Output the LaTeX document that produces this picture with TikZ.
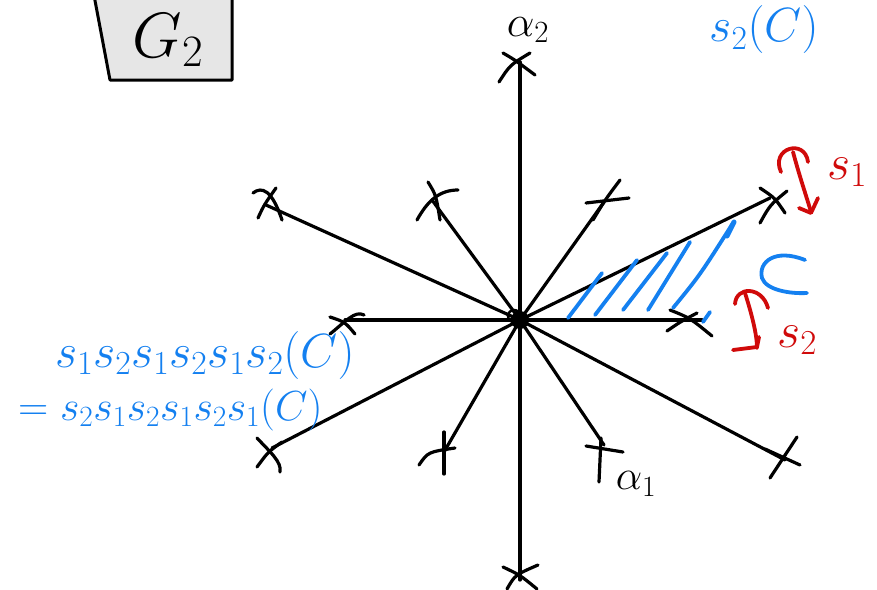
\RequirePackage{fix-cm}
\documentclass[tikz,border=0pt]{standalone}
\usepackage{amsmath}
\definecolor{penblue}{RGB}{20,128,240}
\definecolor{penred}{RGB}{208,10,10}
\definecolor{boxgray}{RGB}{230,230,230}
\begin{document}
\begin{tikzpicture}[x=1pt,y=-1pt,
  root/.style={line width=3.2pt,line cap=round},
  mk/.style={line width=3.2pt,line cap=round},
  bluepen/.style={draw=penblue,line width=3.8pt,line cap=round},
  redpen/.style={draw=penred,line width=3.8pt,line cap=round,line join=round},
  bluetxt/.style={text=penblue,inner sep=0pt,font=\fontsize{46}{46}\selectfont},
  redtxt/.style={text=penred,inner sep=0pt,font=\fontsize{50}{50}\selectfont},
  blacktxt/.style={inner sep=0pt,font=\fontsize{42}{42}\selectfont}]
\useasboundingbox (0,0) rectangle (877,589);
% box G2
\draw[line width=3pt,fill=boxgray,line join=round] (93,-10) -- (110,80) -- (232,80) -- (232,-10);
\node[blacktxt,font=\fontsize{64}{64}\selectfont] (g2) at (168,40) {$G_2$};
% coordinates
\coordinate (O) at (520,320);
\coordinate (top) at (520,62);
\coordinate (bot) at (520,580);
\coordinate (hl) at (345,320);
\coordinate (hr) at (702,320);
\coordinate (ull) at (266,205);
\coordinate (uls) at (432,200);
\coordinate (urs) at (604,202);
\coordinate (url) at (770,198);
\coordinate (lll) at (272,448);
\coordinate (lls) at (444,452);
\coordinate (lrs) at (604,445);
\coordinate (lrl) at (785,460);
% roots
\foreach \t in {top,bot,hl,hr,ull,uls,urs,url,lll,lls,lrs,lrl}
  \draw[root] (O) -- (\t);
% center blob
\fill (O) circle (9pt);
\draw[line width=2.5pt] (514,316) circle (6pt);
% x marks
\draw[mk] (503,53) .. controls (515,60) .. (535,75);
\draw[mk] (499,82) .. controls (510,65) .. (530,53);
\draw[mk] (503,567) .. controls (520,575) .. (537,589);
\draw[mk] (507,589) .. controls (515,575) .. (538,565);
\draw[mk] (330,317) .. controls (345,322) .. (355,334);
\draw[mk] (330,334) .. controls (345,322) and (355,310) .. (364,315);
\draw[mk] (670,310) .. controls (690,318) .. (712,336);
\draw[mk] (667,331) .. controls (680,322) .. (697,313);
\draw[mk] (253,193) .. controls (262,186) and (272,190) .. (282,220);
\draw[mk] (258,218) .. controls (264,205) .. (276,188);
\draw[mk] (428,182) .. controls (436,195) .. (440,220);
\draw[mk] (417,220) .. controls (428,200) and (440,190) .. (458,190);
\draw[mk] (586,203) -- (629,198);
\draw[mk] (593,220) .. controls (605,200) .. (620,180);
\draw[mk] (760,188) .. controls (775,198) .. (785,213);
\draw[mk] (760,223) .. controls (770,205) .. (787,191);
\draw[mk] (257,438) .. controls (270,452) and (282,462) .. (280,472);
\draw[mk] (257,467) .. controls (268,452) .. (282,442);
\draw[mk] (444,432) -- (444,474);
\draw[mk] (419,465) .. controls (428,452) .. (455,448);
\draw[mk] (586,446) -- (623,452);
\draw[mk] (601,438) -- (599,482);
\draw[mk] (765,449) -- (800,465);
\draw[mk] (770,478) -- (797,437);
% labels alpha
\node[blacktxt,font=\fontsize{44}{44}\selectfont] (a2lab) at (528,30) {$\alpha_2$};
\node[blacktxt] (a1lab) at (636,484) {$\alpha_1$};
% blue hatch
\draw[bluepen] (568,318) -- (602,273);
\draw[bluepen] (595,315) -- (637,260);
\draw[bluepen] (623,310) -- (667,253);
\draw[bluepen] (648,310) -- (690,242);
\draw[bluepen] (673,308) .. controls (700,275) .. (733,223);
\draw[bluepen,line width=5pt] (727,236) -- (734,222);
\draw[bluepen] (703,322) -- (710,312);
% chamber C
\draw[bluepen] (805,260) .. controls (775,248) and (758,262) .. (762,278) .. controls (766,290) and (790,294) .. (807,293);
% s1
\draw[redpen] (781,172) .. controls (770,148) and (805,138) .. (808,162);
\draw[redpen] (793,152) .. controls (800,178) and (806,195) .. (811,212);
\draw[redpen] (799,208) -- (811,213) -- (818,198);
\node[redtxt] (s1lab) at (847,172) {$s_1$};
% s2
\draw[redpen] (768,308) .. controls (762,286) and (736,286) .. (735,304);
\draw[redpen] (745,293) .. controls (752,315) and (757,335) .. (757,348);
\draw[redpen] (733,350) -- (757,347) -- (759,337);
\node[redtxt] (s2lab) at (797,340) {$s_2$};
% blue texts
\node[bluetxt,font=\fontsize{48}{48}\selectfont] (topc) at (764,30) {$s_2(C)$};
\node[bluetxt,anchor=west,font=\fontsize{48}{48}\selectfont] (line1) at (55,355) {$s_1s_2s_1s_2s_1s_2(C)$};
\node[bluetxt,anchor=west,font=\fontsize{42}{42}\selectfont] (line2) at (18,410) {$=s_2s_1s_2s_1s_2s_1(C)$};
\end{tikzpicture}
\end{document}
